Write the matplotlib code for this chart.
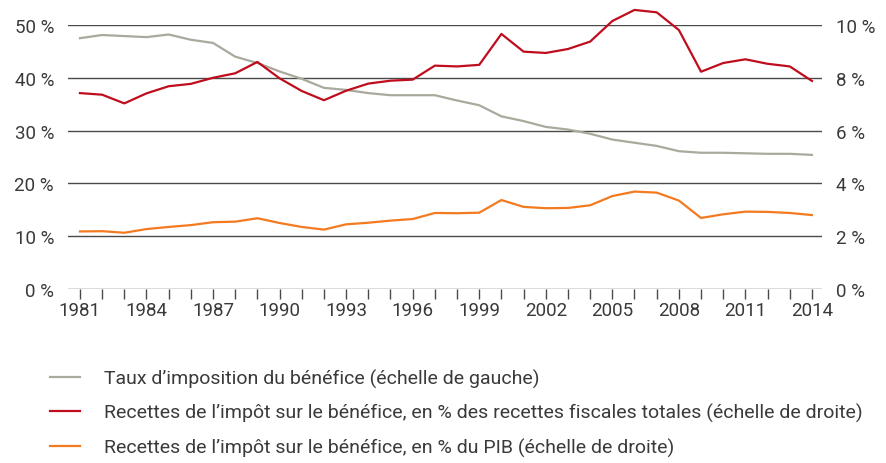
import matplotlib
matplotlib.use("Agg")
import matplotlib.pyplot as plt
from matplotlib.ticker import FuncFormatter, MultipleLocator

plt.rcParams['font.family'] = ['Roboto', 'DejaVu Sans']

years = list(range(1981, 2015))

# Taux d'imposition (echelle de gauche, %)
taux = [47.5, 48.1, 47.9, 47.7, 48.2, 47.2, 46.6, 44.0, 42.8, 41.2,
        39.8, 38.1, 37.7, 37.1, 36.7, 36.7, 36.7, 35.7, 34.8, 32.7,
        31.8, 30.7, 30.2, 29.4, 28.3, 27.7, 27.1, 26.1, 25.8, 25.8,
        25.7, 25.6, 25.6, 25.4]

# Recettes en % des recettes fiscales totales (echelle de droite)
rec_fisc = [7.42, 7.36, 7.03, 7.41, 7.68, 7.77, 8.00, 8.17, 8.60, 7.98,
            7.50, 7.15, 7.51, 7.78, 7.89, 7.93, 8.46, 8.43, 8.49, 9.66,
            8.99, 8.94, 9.09, 9.37, 10.15, 10.57, 10.48, 9.81, 8.23, 8.56,
            8.70, 8.53, 8.43, 7.88]

# Recettes en % du PIB (echelle de droite)
rec_pib = [2.18, 2.19, 2.13, 2.27, 2.35, 2.42, 2.53, 2.55, 2.68, 2.50,
           2.35, 2.25, 2.45, 2.51, 2.59, 2.65, 2.88, 2.87, 2.89, 3.37,
           3.11, 3.06, 3.07, 3.17, 3.52, 3.69, 3.65, 3.35, 2.69, 2.83,
           2.93, 2.92, 2.88, 2.80]

labels = ["Taux d\u2019imposition du bénéfice (échelle de gauche)",
          "Recettes de l\u2019impôt sur le bénéfice, en % des recettes fiscales totales (échelle de droite)",
          "Recettes de l\u2019impôt sur le bénéfice, en % du PIB (échelle de droite)"]

grey = "#a9a99d"
red = "#c00d1e"
orange = "#f47a20"
txt = "#3a3a3a"

fig = plt.figure(figsize=(8.86, 4.64), dpi=100)
ax = fig.add_axes([0.0767, 0.375, 0.851, 0.569])
ax2 = ax.twinx()

ax.set_xlim(1980.46, 2014.45)
ax.set_ylim(0, 50)
ax2.set_ylim(0, 10)

for a in (ax, ax2):
    for s in a.spines.values():
        s.set_visible(False)

ax.yaxis.set_major_locator(MultipleLocator(10))
ax2.yaxis.set_major_locator(MultipleLocator(2))
ax.grid(axis='y', color='#4a4a4a', linewidth=1.0)
ax.set_axisbelow(True)

fmt = FuncFormatter(lambda v, p: f"{v:.0f} %")
ax.yaxis.set_major_formatter(fmt)
ax2.yaxis.set_major_formatter(fmt)
ax.tick_params(axis='y', length=0, labelsize=13.5, labelcolor=txt, pad=10)
ax2.tick_params(axis='y', length=0, labelsize=13.5, labelcolor=txt, pad=10)

ax.set_xticks(years, minor=True)
ax.set_xticks(years[::3])
ax.tick_params(axis='x', which='both', direction='out', length=7, width=1,
               color='#4a4a4a', labelsize=13.5, labelcolor=txt, pad=2)

l1, = ax.plot(years, taux, color=grey, lw=1.6, clip_on=False)
l2, = ax2.plot(years, rec_fisc, color=red, lw=1.6, clip_on=False)
l3, = ax2.plot(years, rec_pib, color=orange, lw=1.6, clip_on=False)

fig.legend([l1, l2, l3], labels, loc='upper left', bbox_to_anchor=(0.0476, 0.2205),
           frameon=False, fontsize=14, handlelength=1.57, handletextpad=1.2,
           labelspacing=0.8, labelcolor=txt, borderaxespad=0)

fig.savefig("out.png", dpi=100)
